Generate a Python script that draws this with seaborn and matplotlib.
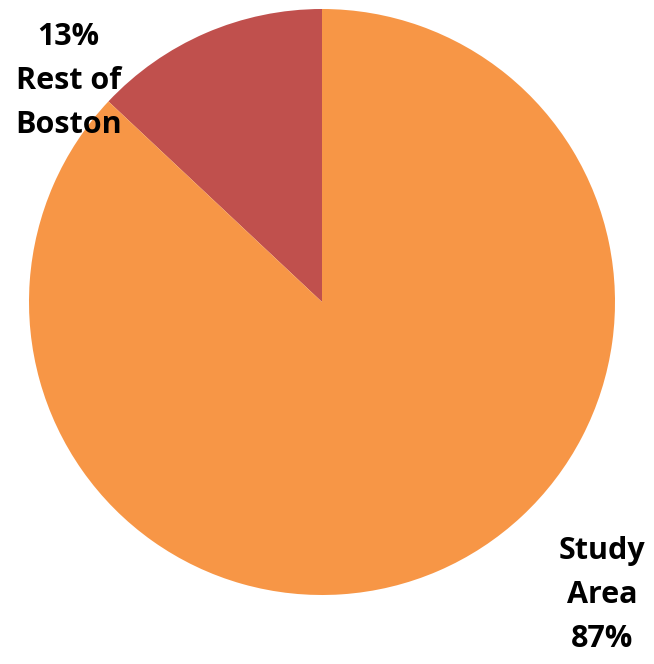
import matplotlib
matplotlib.use("Agg")
import matplotlib.pyplot as plt
import seaborn as sns

# Share of total, Study Area vs rest of the city
categories = ["Rest of\nBoston", "Study\nArea"]
shares = [13, 87]
colors = ["#C0504D", "#F79646"]

sns.set_style("white")
plt.rcParams["font.family"] = ["Open Sans", "DejaVu Sans"]

fig = plt.figure(figsize=(6.54, 6.64), dpi=100)
ax = fig.add_axes([0, 0, 1, 1])

wedges, _ = ax.pie(shares, colors=colors, startangle=90, counterclock=True,
                   radius=1.0, wedgeprops=dict(linewidth=0))

# place the axes so the pie sits where the reference draws it
r_px = 293.0
cx, cy = 322.0, 302.0
ax.set_xlim(-cx / r_px, (654 - cx) / r_px)
ax.set_ylim(-(664 - cy) / r_px, cy / r_px)
ax.set_aspect("auto")
ax.axis("off")

ax.text(-0.865, 0.755, f"{shares[0]}%\n{categories[0]}", ha="center", va="center",
        fontsize=22, fontweight="bold", linespacing=1.6, color="black")
ax.text(0.955, -1.0, f"{categories[1]}\n{shares[1]}%", ha="center", va="center",
        fontsize=22, fontweight="bold", linespacing=1.6, color="black")

fig.savefig("out.png", dpi=100)
